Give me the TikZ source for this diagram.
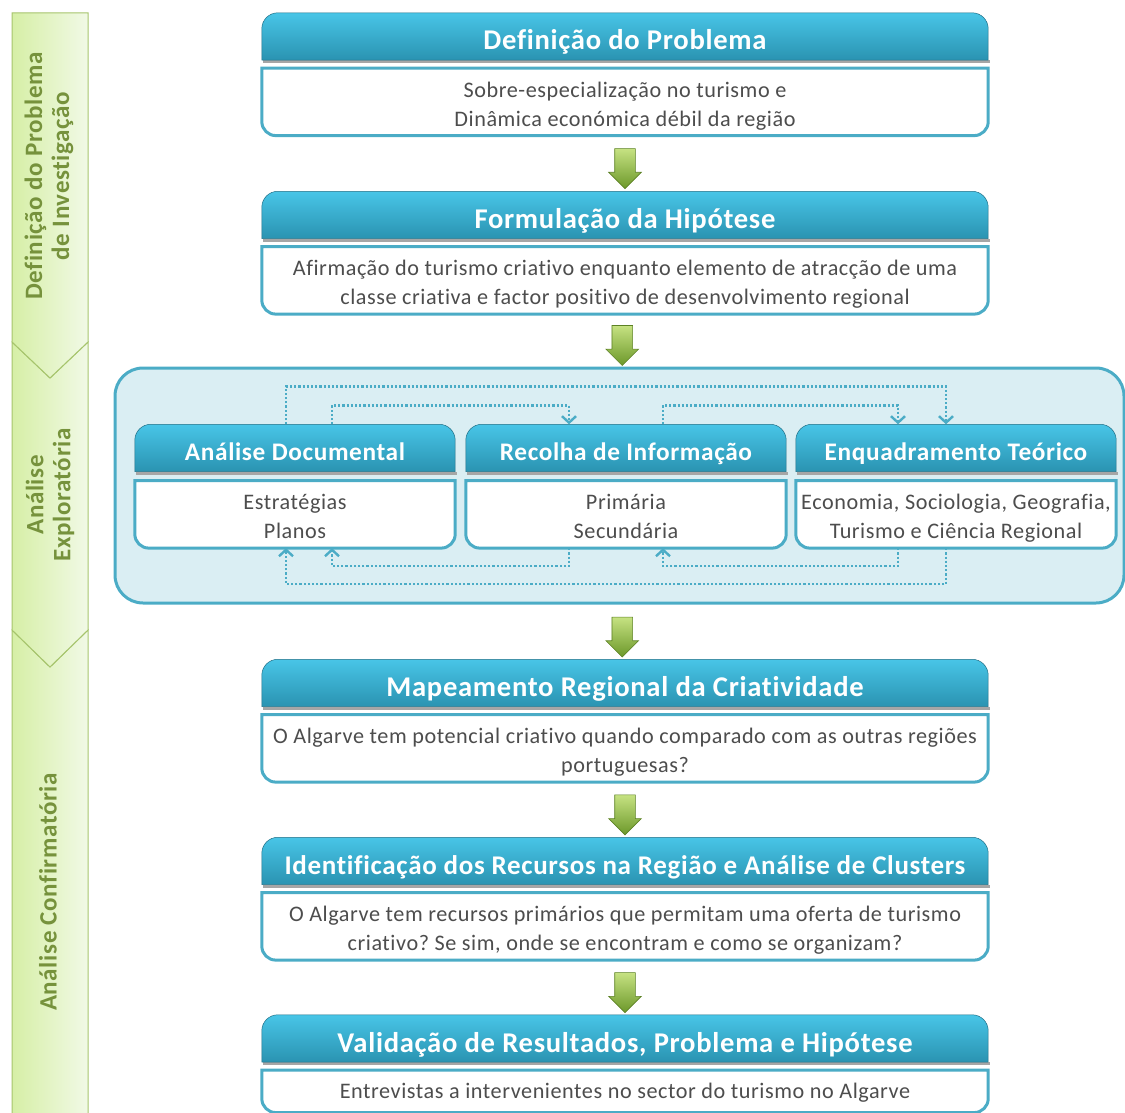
\documentclass[tikz,border=0pt]{standalone}
\usepackage{fontspec}
\setmainfont{Carlito}[LetterSpace=2.5, Ligatures=NoCommon]
\frenchspacing
\usetikzlibrary{positioning,calc,shapes.arrows,arrows.meta}
\pgfdeclarelayer{background}
\pgfsetlayers{background,main}
\definecolor{hdtop}{HTML}{48C5E7}
\definecolor{hdbot}{HTML}{2A93B1}
\definecolor{bdline}{HTML}{4BACC6}
\definecolor{panelfill}{HTML}{DAEEF3}
\definecolor{bdtext}{HTML}{4D4D4D}
\definecolor{sidefill}{HTML}{D6EFA6}
\definecolor{sidefillb}{HTML}{F1F9E6}
\definecolor{sideline}{HTML}{A6C46C}
\definecolor{sidetext}{HTML}{76923C}
\definecolor{arrtop}{HTML}{C6E282}
\definecolor{arrbot}{HTML}{6C982A}

\tikzset{
  hd/.style={text=white, font=\fontsize{28.6}{32}\selectfont\bfseries,
    minimum width=726pt, minimum height=47pt, inner sep=0pt,
    text height=28pt, text depth=1pt},
  sub/.style={hd, minimum width=320pt, font=\fontsize{25.3}{30}\selectfont\bfseries,
    text height=25pt, text depth=1pt},
  bd/.style={text=bdtext, font=\fontsize{22.2}{29}\selectfont, align=center,
    minimum width=726pt, minimum height=67pt, inner sep=0pt,
    text height=51pt, text depth=2pt},
  subbd/.style={bd, minimum width=320pt},
  hdshade/.style={top color=hdtop, bottom color=hdbot, draw=hdbot!75!black, line width=0.5pt},
  bdframe/.style={fill=white, draw=bdline, line width=3pt},
  garr/.style={single arrow, shape border rotate=270, inner sep=10pt,
    minimum height=40pt, single arrow head extend=6pt,
    top color=arrtop, bottom color=arrbot, draw=arrbot!85!black, line width=0.6pt},
  fb/.style={draw=bdline, line width=2.6pt, dash pattern=on 2.2pt off 2pt,
    -{Straight Barb[length=6.5pt,width=14pt,line width=2.4pt]}},
  side/.style={left color=sidefill, right color=sidefillb, draw=sideline, line width=1pt},
  sidetxt/.style={rotate=90, text=sidetext, align=center,
    font=\fontsize{25}{27}\selectfont\bfseries}
}

\begin{document}
\begin{tikzpicture}[x=1pt,y=1pt]
\useasboundingbox (0,0) rectangle (1125,-1113);

% fases
\shade[side] (12,-630) -- (50,-667) -- (88,-630) -- (88,-1125) -- (12,-1125) -- cycle;
\shade[side] (12,-342) -- (50,-378) -- (88,-342) -- (88,-630) -- (50,-667) -- (12,-630) -- cycle;
\shade[side] (12,-13) -- (88,-13) -- (88,-342) -- (50,-378) -- (12,-342) -- cycle;
\node[sidetxt] (f1) at (49,-176) {Definição do Problema\\de Investigação};
\node[sidetxt] (f2) at (50,-495) {Análise\\Exploratória};
\node[sidetxt] (f3) at (48,-892) {Análise Confirmatória};

% etapas
\node[hd] (h1) at (625,-36.5) {Definição do Problema};
\node[bd] (b1) [below=8pt of h1] {Sobre-especialização no turismo e\\Dinâmica económica débil da região};
\node[hd] (h2) at (625,-215) {Formulação da Hipótese};
\node[bd] (b2) [below=8pt of h2] {Afirmação do turismo criativo enquanto elemento de atracção de uma\\classe criativa e factor positivo de desenvolvimento regional};

\node[sub] (s1) at (295,-448) {Análise Documental};
\node[sub] (s2) at (626,-448) {Recolha de Informação};
\node[sub] (s3) at (956,-448) {Enquadramento Teórico};
\node[subbd] (u1) [below=9pt of s1] {Estratégias\\Planos};
\node[subbd] (u2) [below=9pt of s2] {Primária\\Secundária};
\node[subbd] (u3) [below=9pt of s3] {Economia, Sociologia, Geografia,\\Turismo e Ciência Regional};

\node[hd] (h5) at (625,-683) {Mapeamento Regional da Criatividade};
\node[bd] (b5) [below=8pt of h5] {O Algarve tem potencial criativo quando comparado com as outras regiões\\portuguesas?};
\node[hd, font=\fontsize{27}{32}\selectfont\bfseries] (h6) at (625,-861) {Identificação dos Recursos na Região e Análise de Clusters};
\node[bd] (b6) [below=8pt of h6] {O Algarve tem recursos primários que permitam uma oferta de turismo\\criativo? Se sim, onde se encontram e como se organizam?};
\node[hd] (h7) at (625,-1038.5) {Validação de Resultados, Problema e Hipótese};
\node[bd, minimum height=42pt, text height=20pt, text depth=6pt] (b7) [below=8pt of h7] {Entrevistas a intervenientes no sector do turismo no Algarve};

\begin{pgfonlayer}{background}
\node[fill=panelfill, draw=bdline, line width=3pt, rounded corners=28pt,
  minimum width=1009pt, minimum height=235pt] (pn) at (619.5,-485.5) {};
\foreach \h in {h1,h2,s1,s2,s3,h5,h6,h7} {
  \fill[black!35] ([xshift=1pt]\h.south west) rectangle ([xshift=2pt,yshift=-3pt]\h.south east);
  \shade[hdshade] (\h.south west) -- ([yshift=-16pt]\h.north west)
    arc[start angle=180, end angle=90, radius=16pt]
    -- ([xshift=-16pt]\h.north east) arc[start angle=90, end angle=0, radius=16pt]
    -- (\h.south east) -- cycle;
}
\foreach \b in {b1,b2,u1,u2,u3,b5,b6,b7}
  \draw[bdframe] (\b.north west) -- ([yshift=14pt]\b.south west)
    arc[start angle=180, end angle=270, radius=14pt]
    -- ([xshift=-14pt]\b.south east) arc[start angle=270, end angle=360, radius=14pt]
    -- (\b.north east) -- cycle;
\end{pgfonlayer}

% setas
\node[garr] (a1) at ($(b1.south)!.5!(h2.north)$) {};
\node[garr] (a2) at ($(b2.south)!.5!(pn.north)$) {};
\node[garr] (a3) at ($(pn.south)!.5!(h5.north)$) {};
\node[garr] (a4) at ($(b5.south)!.5!(h6.north)$) {};
\node[garr] (a5) at ($(b6.south)!.5!(h7.north)$) {};

% ligacoes
\draw[fb] ([xshift=-9pt]s1.north) -- ++(0,38) -| ([xshift=-10pt]s3.north);
\draw[fb] ([xshift=37pt]s1.north) -- ++(0,19) -| ([xshift=-57pt]s2.north);
\draw[fb] ([xshift=37pt]s2.north) -- ++(0,19) -| ([xshift=-58pt]s3.north);
\draw[fb] ([xshift=-57pt]u2.south) -- ++(0,-18) -| ([xshift=37pt]u1.south);
\draw[fb] ([xshift=-58pt]u3.south) -- ++(0,-18) -| ([xshift=37pt]u2.south);
\draw[fb] ([xshift=-10pt]u3.south) -- ++(0,-36) -| ([xshift=-9pt]u1.south);
\end{tikzpicture}
\end{document}
